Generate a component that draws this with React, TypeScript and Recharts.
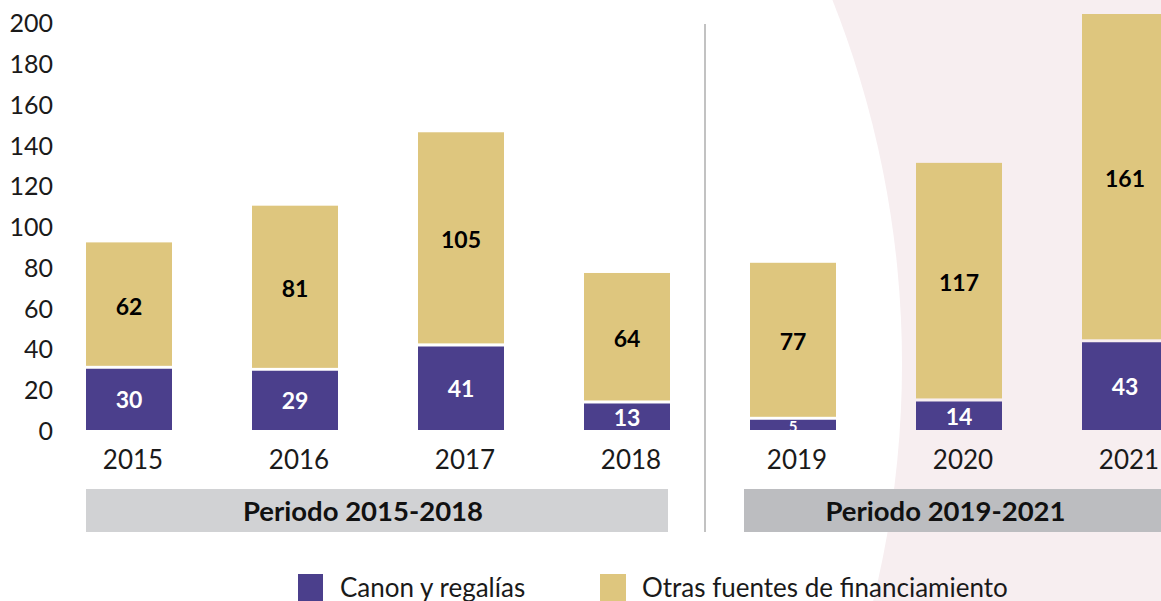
import React from 'react';
import { BarChart, Bar, XAxis, YAxis, LabelList, Legend } from 'recharts';

const years = ['2015', '2016', '2017', '2018', '2019', '2020', '2021'];
const canon = [30, 29, 41, 13, 5, 14, 43];
const otras = [62, 81, 105, 64, 77, 117, 161];
const yTicks = [0, 20, 40, 60, 80, 100, 120, 140, 160, 180, 200];

const PURPLE = '#4b3f8c';
const GOLD = '#dec67e';
const FONT = 'Lato, "Open Sans", sans-serif';

const data = years.map((year, i) => ({ year, canon: canon[i], otras: otras[i] }));

const YTick = (props: any) => {
  const { x, y, payload } = props;
  return (
    <text x={x + 7} y={y} textAnchor="end" dominantBaseline="central" fontSize={25} fill="#1a1a1a" fontFamily={FONT}>
      {payload.value}
    </text>
  );
};

const XTick = (props: any) => {
  const { x, y, payload } = props;
  return (
    <text x={x + 4} y={y + 29} textAnchor="middle" dominantBaseline="central" fontSize={26} fill="#1a1a1a" fontFamily={FONT}>
      {payload.value}
    </text>
  );
};

// gold segment sits on top of purple with a thin white gap
const GoldShape = (props: any) => {
  const { x, y, width, height } = props;
  return <rect x={x} y={y} width={width} height={Math.max(height - 3, 0)} fill={GOLD} />;
};

const makeLabel = (color: string) => (props: any) => {
  const { x, y, width, height, value } = props;
  const small = height < 20;
  return (
    <text
      x={x + width / 2}
      y={y + height / 2 + (small ? 1 : 0)}
      textAnchor="middle"
      dominantBaseline="central"
      fontSize={small ? 15 : 23}
      fontWeight={700}
      fill={color}
      fontFamily={FONT}
    >
      {value}
    </text>
  );
};

const LegendContent = () => (
  <div style={{ display: 'flex', alignItems: 'center', paddingLeft: 298, fontFamily: FONT, fontSize: 26, color: '#1a1a1a', height: 28 }}>
    <span style={{ width: 25, height: 27, background: PURPLE, display: 'inline-block' }} />
    <span style={{ marginLeft: 17, width: 260 }}>Canon y regalías</span>
    <span style={{ width: 26, height: 27, background: GOLD, display: 'inline-block' }} />
    <span style={{ marginLeft: 16 }}>Otras fuentes de financiamiento</span>
  </div>
);

const boxText: React.CSSProperties = {
  position: 'absolute',
  top: 489,
  height: 43,
  display: 'flex',
  alignItems: 'center',
  justifyContent: 'center',
  boxSizing: 'border-box',
  fontFamily: FONT,
  fontWeight: 700,
  fontSize: 27.5,
  color: '#111',
};

export default function App() {
  return (
    <div style={{ position: 'fixed', left: 0, top: 0, width: 1161, height: 601, overflow: 'hidden', background: '#f7eef0' }}>
      {/* white disc covering the left part, leaving the pink sweep on the right */}
      <div style={{ position: 'absolute', left: -1072, top: -623, width: 1974, height: 1974, borderRadius: '50%', background: '#fff' }} />
      <div style={{ position: 'absolute', left: 704, top: 24, width: 2, height: 508, background: '#c2c2c2' }} />
      <div style={{ ...boxText, left: 86, width: 582, paddingRight: 28, background: '#d1d2d4' }}>Periodo 2015-2018</div>
      <div style={{ ...boxText, left: 744, width: 417, paddingRight: 14, background: '#bcbdc0' }}>Periodo 2019-2021</div>
      <div style={{ position: 'absolute', left: 0, top: 0 }}>
        <BarChart width={1210} height={601} data={data} margin={{ top: 14, right: 2, bottom: 0, left: 0 }}>
          <YAxis
            width={46}
            domain={[0, 204]}
            ticks={yTicks}
            axisLine={false}
            tickLine={false}
            tickSize={0}
            tickMargin={0}
            tick={<YTick />}
            interval={0}
          />
          <XAxis
            dataKey="year"
            height={143}
            axisLine={false}
            tickLine={false}
            tickSize={0}
            tickMargin={0}
            tick={<XTick />}
            interval={0}
          />
          <Legend content={<LegendContent />} wrapperStyle={{ left: 0, top: 573, width: 1161, height: 28 }} />
          <Bar dataKey="canon" name="Canon y regalías" stackId="a" fill={PURPLE} barSize={86} isAnimationActive={false}>
            <LabelList dataKey="canon" content={makeLabel('#fff')} />
          </Bar>
          <Bar dataKey="otras" name="Otras fuentes de financiamiento" stackId="a" fill={GOLD} barSize={86} shape={<GoldShape />} isAnimationActive={false}>
            <LabelList dataKey="otras" content={makeLabel('#000')} />
          </Bar>
        </BarChart>
      </div>
    </div>
  );
}
